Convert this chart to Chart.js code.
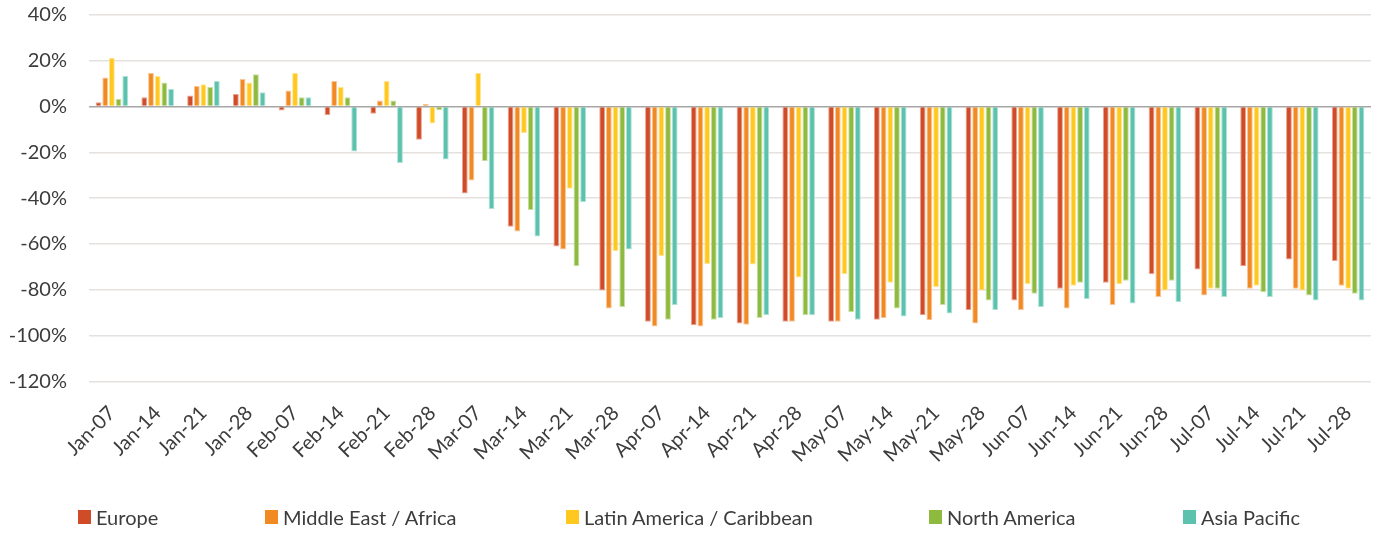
<!DOCTYPE html>
<html>
<head>
<meta charset="utf-8">
<script src="https://cdn.jsdelivr.net/npm/chart.js@4/dist/chart.umd.min.js"></script>
<style>
  body { margin: 0; background: #fff; }
  #wrap { position: relative; width: 1381px; height: 533px; }
  #legend { position: absolute; left: 0; top: 505px; width: 1381px; height: 26px;
    font-family: Lato, sans-serif; font-size: 20px; color: #3c3c3c; }
  #legend .item { position: absolute; top: 0; display: flex; align-items: center; white-space: nowrap; }
  #legend .box { width: 13px; height: 14px; margin-right: 5px; }
</style>
</head>
<body>
<div id="wrap">
  <canvas id="chart" width="1381" height="533"></canvas>
  <div id="legend"></div>
</div>
<script>
const weeks = ['Jan-07', 'Jan-14', 'Jan-21', 'Jan-28', 'Feb-07', 'Feb-14', 'Feb-21', 'Feb-28',
  'Mar-07', 'Mar-14', 'Mar-21', 'Mar-28', 'Apr-07', 'Apr-14', 'Apr-21', 'Apr-28',
  'May-07', 'May-14', 'May-21', 'May-28', 'Jun-07', 'Jun-14', 'Jun-21', 'Jun-28',
  'Jul-07', 'Jul-14', 'Jul-21', 'Jul-28'];

const europe = [1.9, 4.1, 4.8, 5.5, -1.7, -3.8, -3.1, -14.5, -38.0, -52.5, -61.1, -80.3, -94.0, -95.5,
  -94.8, -94.0, -94.0, -93.1, -91.1, -88.9, -84.7, -79.6, -76.9, -73.2, -71.2, -69.7, -66.8, -67.5];
const middleEastAfrica = [12.7, 14.8, 9.0, 12.0, 7.0, 11.2, 2.6, 1.2, -32.3, -54.6, -62.4, -88.2, -96.1, -96.1,
  -95.3, -94.0, -94.0, -92.4, -93.3, -94.8, -88.9, -88.2, -86.7, -83.2, -82.5, -79.6, -79.6, -78.3];
const latinAmerica = [21.3, 13.4, 9.8, 10.5, 14.8, 8.5, 11.2, -7.4, 14.8, -11.6, -35.9, -63.2, -65.3, -68.8,
  -69.0, -74.7, -73.2, -76.9, -78.9, -80.3, -77.6, -78.3, -77.6, -80.3, -79.6, -78.3, -80.3, -79.6];
const northAmerica = [3.4, 10.5, 8.5, 14.1, 4.1, 4.1, 2.6, -1.6, -23.9, -45.2, -69.7, -87.5, -93.1, -93.1,
  -92.4, -91.1, -89.7, -88.2, -86.7, -84.7, -81.8, -76.9, -76.1, -76.1, -79.6, -81.1, -82.5, -81.8];
const asiaPacific = [13.4, 7.7, 11.2, 6.3, 4.1, -19.6, -24.6, -23.1, -44.7, -56.8, -41.7, -62.4, -86.7, -92.4,
  -91.1, -91.1, -93.1, -91.7, -90.4, -88.9, -87.5, -84.0, -86.0, -85.4, -83.2, -83.2, -84.7, -84.7];

const seriesNames = ['Europe', 'Middle East / Africa', 'Latin America / Caribbean', 'North America', 'Asia Pacific'];
const seriesData = [europe, middleEastAfrica, latinAmerica, northAmerica, asiaPacific];
const colors = ['#d04b27', '#f18a22', '#fec81e', '#8eba40', '#5cc2ad'];
const edgeColors = ['#e8a592', '#f7c69a', '#ffe59a', '#c9e0a3', '#aee2d6'];

const textColor = '#3c3c3c';

const datasets = seriesNames.map((name, i) => ({
  label: name,
  data: seriesData[i],
  backgroundColor: colors[i],
  borderColor: edgeColors[i],
  borderWidth: 1,
  categoryPercentage: 0.73,
  barPercentage: 0.87
}));

// legend drawn in html, spread like the original
const legendLeft = [78, 265, 566, 929, 1183];
const legendEl = document.getElementById('legend');
seriesNames.forEach((name, i) => {
  const item = document.createElement('div');
  item.className = 'item';
  item.style.left = legendLeft[i] + 'px';
  item.innerHTML = `<span class="box" style="background:${colors[i]}"></span><span>${name}</span>`;
  legendEl.appendChild(item);
});

new Chart(document.getElementById('chart'), {
  type: 'bar',
  data: { labels: weeks, datasets: datasets },
  options: {
    responsive: false,
    animation: false,
    layout: { padding: { left: 0, right: 10, top: 15, bottom: 54 } },
    plugins: {
      legend: { display: false },
      tooltip: { enabled: false }
    },
    scales: {
      x: {
        grid: { display: false },
        border: { display: false },
        afterFit: axis => { axis.paddingLeft = 0; axis.paddingRight = 0; },
        ticks: {
          color: textColor,
          font: { family: 'Lato', size: 20 },
          minRotation: 45,
          maxRotation: 45,
          autoSkip: false,
          padding: 12
        }
      },
      y: {
        min: -120,
        max: 40,
        border: { display: false },
        afterFit: axis => { axis.width = 89; axis.paddingTop = 0; axis.paddingBottom = 0; },
        grid: {
          drawTicks: false,
          lineWidth: 1.5,
          color: ctx => ctx.tick && ctx.tick.value === 0 ? '#a6a6a6' : '#e4e1de'
        },
        ticks: {
          stepSize: 20,
          color: textColor,
          font: { family: 'Lato', size: 20 },
          padding: 22,
          callback: v => v + '%'
        }
      }
    }
  }
});
</script>
</body>
</html>
